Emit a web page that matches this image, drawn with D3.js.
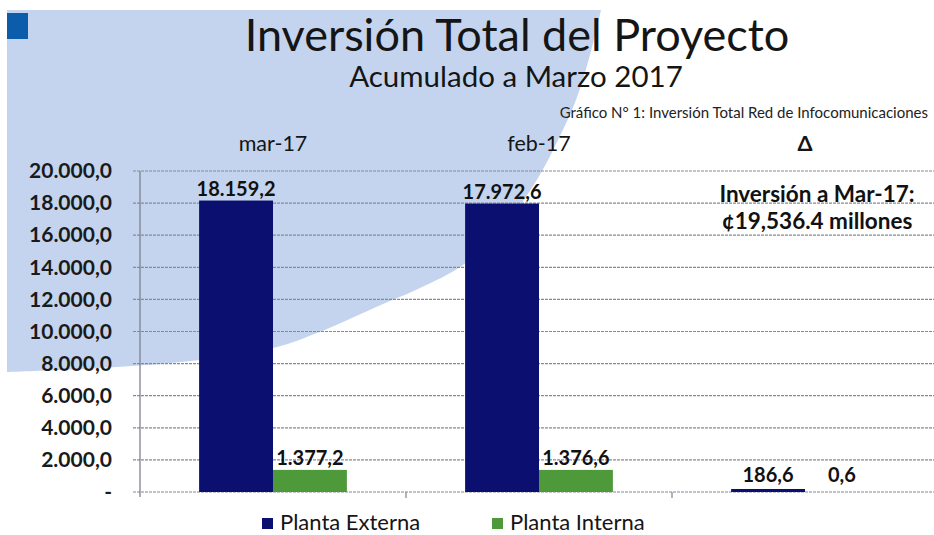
<!DOCTYPE html>
<html>
<head>
<meta charset="utf-8">
<script src="https://cdn.jsdelivr.net/npm/d3@7/dist/d3.min.js"></script>
<style>
  html, body { margin: 0; padding: 0; background: #ffffff; }
  svg { display: block; }
  text { font-family: Lato, "Open Sans", sans-serif; }
</style>
</head>
<body>
<div id="chart"></div>
<script>
// ---- data ----
const categories = ["mar-17", "feb-17", "\u0394"];
const series = ["Planta Externa", "Planta Interna"];
const plantaExterna = [18159.2, 17972.6, 186.6];
const plantaInterna = [1377.2, 1376.6, 0.6];
const yTicks = [0, 2000, 4000, 6000, 8000, 10000, 12000, 14000, 16000, 18000, 20000];
const seriesColors = ["#0b1070", "#4e9a3b"];
const title = "Inversión Total del Proyecto";
const subtitle = "Acumulado a Marzo 2017";
const chartCaption = "Gráfico N° 1: Inversión Total Red de Infocomunicaciones";
const noteLines = ["Inversión a Mar-17:", "¢19,536.4 millones"];

// ---- setup ----
const W = 934, H = 535;
const svg = d3.select("#chart").append("svg").attr("width", W).attr("height", H);

const es = d3.formatLocale({decimal: ",", thousands: ".", grouping: [3], currency: ["", ""]});
const fmt = es.format(",.1f");

const margin = {left: 140, right: -4, top: 171, bottom: 43};
const x0 = d3.scaleBand().domain(categories).range([margin.left, W - margin.right]).padding(0);
const x1 = d3.scaleBand().domain(series).range([0, x0.bandwidth()]).paddingInner(0).paddingOuter(0.8);
const y = d3.scaleLinear().domain([0, 20000]).range([H - margin.bottom, margin.top]);

// ---- decorative background shape ----
const bgPts = [[601,10],[590,55],[576,100],[558,140],[538,178],[505,225],[463,265],[420,288],[383,304],
               [317,333],[277,347],[200,360],[100,368],[7,372]];
const bgPath = d3.line().curve(d3.curveCatmullRom)(bgPts) + "L7,10Z";
svg.append("path").attr("d", bgPath).attr("fill", "#c4d4ee");
svg.append("rect").attr("x", 7).attr("y", 13).attr("width", 21).attr("height", 26).attr("fill", "#0b5cab");

// ---- titles ----
svg.append("text").attr("x", 517).attr("y", 51).attr("text-anchor", "middle")
  .attr("font-size", 45).attr("fill", "#151515").text(title);
svg.append("text").attr("x", 516).attr("y", 87).attr("text-anchor", "middle")
  .attr("font-size", 29.5).attr("fill", "#151515").text(subtitle);
svg.append("text").attr("x", 928).attr("y", 118).attr("text-anchor", "end")
  .attr("font-size", 15).attr("fill", "#222").text(chartCaption);

// ---- gridlines ----
const g = svg.append("g");
g.selectAll("line.grid").data(yTicks).join("line").attr("class", "grid")
  .attr("x1", margin.left - 7).attr("x2", W).attr("y1", d => y(d)).attr("y2", d => y(d))
  .attr("stroke", "#858a94").attr("stroke-width", 1.2).attr("stroke-dasharray", "3,1");

// y axis
const yAxis = d3.axisLeft(y).tickValues(yTicks).tickSize(0).tickPadding(28)
  .tickFormat(d => d === 0 ? "-" : fmt(d));
const ya = svg.append("g").attr("transform", `translate(${margin.left},0)`).call(yAxis);
ya.select(".domain").remove();
ya.selectAll("text").attr("font-size", 21).attr("font-weight", 700).attr("fill", "#1a1a1a")
  .attr("font-family", "Lato, sans-serif");
svg.append("line").attr("x1", margin.left).attr("x2", margin.left)
  .attr("y1", y(20000)).attr("y2", y(0) + 5).attr("stroke", "#7d828c").attr("stroke-width", 1.3);

// category separators (bottom ticks)
svg.selectAll("line.sep").data(categories.slice(1)).join("line").attr("class", "sep")
  .attr("x1", d => x0(d)).attr("x2", d => x0(d)).attr("y1", y(0)).attr("y2", y(0) + 6)
  .attr("stroke", "#7d828c").attr("stroke-width", 1.2);

// category labels on top
svg.selectAll("text.cat").data(categories).join("text").attr("class", "cat")
  .attr("x", d => x0(d) + x0.bandwidth() / 2).attr("y", 151).attr("text-anchor", "middle")
  .attr("font-size", 21.5).attr("fill", "#151515").attr("font-weight", d => d === "\u0394" ? 700 : 400)
  .text(d => d);

// ---- bars ----
const rows = categories.map((c, i) => ({cat: c, vals: [plantaExterna[i], plantaInterna[i]]}));
const grp = svg.selectAll("g.cat").data(rows).join("g").attr("class", "cat")
  .attr("transform", d => `translate(${x0(d.cat)},0)`);
grp.selectAll("rect").data(d => d.vals.map((v, j) => ({s: series[j], v, j})))
  .join("rect")
  .attr("x", d => x1(d.s)).attr("width", x1.bandwidth())
  .attr("y", d => y(d.v)).attr("height", d => y(0) - y(d.v))
  .attr("fill", d => seriesColors[d.j]);
grp.selectAll("text").data(d => d.vals.map((v, j) => ({s: series[j], v, j})))
  .join("text")
  .attr("x", d => x1(d.s) + x1.bandwidth() / 2)
  .attr("y", d => Math.min(y(d.v) - 5, y(0) - 10))
  .attr("text-anchor", "middle").attr("font-size", 20).attr("font-weight", 700).attr("fill", "#111")
  .text(d => fmt(d.v));

// ---- note ----
svg.selectAll("text.note").data(noteLines).join("text").attr("class", "note")
  .attr("x", 817).attr("y", (d, i) => 202 + i * 27).attr("text-anchor", "middle")
  .attr("font-size", 22.5).attr("font-weight", 700).attr("fill", "#111").text(d => d);

// ---- legend ----
const legX = [262, 492];
const leg = svg.selectAll("g.leg").data(series).join("g").attr("class", "leg")
  .attr("transform", (d, i) => `translate(${legX[i]},518)`);
leg.append("rect").attr("width", 11).attr("height", 11).attr("fill", (d, i) => seriesColors[i]);
leg.append("text").attr("x", 18).attr("y", 12).attr("font-size", 22).attr("fill", "#151515")
  .text(d => d);
</script>
</body>
</html>
